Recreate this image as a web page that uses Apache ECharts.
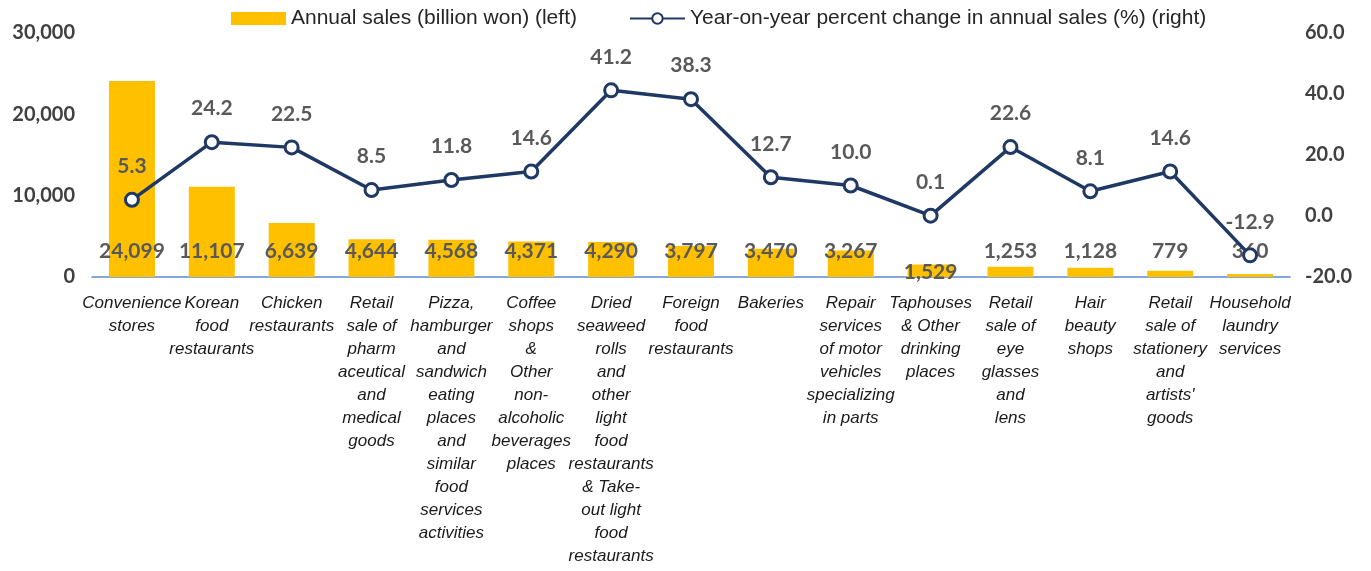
<!DOCTYPE html>
<html>
<head>
<meta charset="utf-8">
<script src="https://cdn.jsdelivr.net/npm/echarts@6/dist/echarts.min.js"></script>
<style>html,body{margin:0;padding:0;background:#fff;}#c{width:1371px;height:571px;}</style>
</head>
<body>
<div id="c"></div>
<script>
var categories = [
  "Convenience\nstores",
  "Korean\nfood\nrestaurants",
  "Chicken\nrestaurants",
  "Retail\nsale of\npharm\naceutical\nand\nmedical\ngoods",
  "Pizza,\nhamburger\nand\nsandwich\neating\nplaces\nand\nsimilar\nfood\nservices\nactivities",
  "Coffee\nshops\n&\nOther\nnon-\nalcoholic\nbeverages\nplaces",
  "Dried\nseaweed\nrolls\nand\nother\nlight\nfood\nrestaurants\n& Take-\nout light\nfood\nrestaurants",
  "Foreign\nfood\nrestaurants",
  "Bakeries",
  "Repair\nservices\nof motor\nvehicles\nspecializing\nin parts",
  "Taphouses\n& Other\ndrinking\nplaces",
  "Retail\nsale of\neye\nglasses\nand\nlens",
  "Hair\nbeauty\nshops",
  "Retail\nsale of\nstationery\nand\nartists'\ngoods",
  "Household\nlaundry\nservices"
];
var annualSales = [24099, 11107, 6639, 4644, 4568, 4371, 4290, 3797, 3470, 3267, 1529, 1253, 1128, 779, 360];
var yoyChange = [5.3, 24.2, 22.5, 8.5, 11.8, 14.6, 41.2, 38.3, 12.7, 10.0, 0.1, 22.6, 8.1, 14.6, -12.9];
var leftTicks = [0, 10000, 20000, 30000];
var rightTicks = [-20, 0, 20, 40, 60];
var seriesNames = ["Annual sales (billion won) (left)", "Year-on-year percent change in annual sales (%) (right)"];

var valueFont = { fontFamily: "Lato", fontWeight: "bold", fontSize: 21, color: "#595959" };

var barData = annualSales.map(function (v, i) {
  var item = { value: v };
  if (i === 10) {
    item.label = { offset: [0, 21] };
  }
  return item;
});

var chart = echarts.init(document.getElementById('c'));
chart.setOption({
  animation: false,
  backgroundColor: '#ffffff',
  legend: {
    top: 3,
    left: 226,
    itemWidth: 55,
    itemHeight: 13,
    itemGap: 52,
    textStyle: { fontFamily: "Liberation Sans", fontSize: 21, color: "#262626" },
    data: [
      { name: seriesNames[0], icon: 'rect' },
      { name: seriesNames[1] }
    ]
  },
  grid: { left: 92, right: 81, top: 33, bottom: 294 },
  xAxis: {
    type: 'category',
    data: categories,
    axisLine: { lineStyle: { color: '#5B8BD0', width: 1.5 } },
    axisTick: { show: false },
    axisLabel: {
      interval: 0,
      margin: 15,
      fontFamily: "Liberation Sans",
      fontStyle: 'italic',
      fontSize: 17,
      lineHeight: 23,
      color: '#1a1a1a'
    }
  },
  yAxis: [
    {
      type: 'value',
      min: leftTicks[0],
      max: leftTicks[leftTicks.length - 1],
      interval: leftTicks[1] - leftTicks[0],
      axisLine: { show: false },
      axisTick: { show: false },
      splitLine: { show: false },
      axisLabel: {
        margin: 17,
        fontFamily: "Lato",
        fontWeight: 'bold',
        fontSize: 20,
        color: '#404040',
        formatter: function (v) { return v.toLocaleString('en-US'); }
      }
    },
    {
      type: 'value',
      min: rightTicks[0],
      max: rightTicks[rightTicks.length - 1],
      interval: rightTicks[1] - rightTicks[0],
      axisLine: { show: false },
      axisTick: { show: false },
      splitLine: { show: false },
      axisLabel: {
        margin: 15,
        fontFamily: "Lato",
        fontWeight: 'bold',
        fontSize: 20,
        color: '#404040',
        formatter: function (v) { return v.toFixed(1); }
      }
    }
  ],
  series: [
    {
      name: seriesNames[0],
      type: 'bar',
      yAxisIndex: 0,
      barWidth: 46,
      data: barData,
      itemStyle: { color: '#FFC000' },
      label: {
        show: true,
        position: 'insideBottom',
        distance: 15,
        fontFamily: valueFont.fontFamily,
        fontWeight: valueFont.fontWeight,
        fontSize: valueFont.fontSize,
        color: valueFont.color,
        formatter: function (p) { return p.value.toLocaleString('en-US'); }
      }
    },
    {
      name: seriesNames[1],
      type: 'line',
      yAxisIndex: 1,
      data: yoyChange,
      symbol: 'circle',
      symbolSize: 13,
      z: 5,
      lineStyle: { color: '#1F3864', width: 3.5 },
      itemStyle: { color: '#ffffff', borderColor: '#1F3864', borderWidth: 3 },
      label: {
        show: true,
        position: 'top',
        distance: 15,
        fontFamily: valueFont.fontFamily,
        fontWeight: valueFont.fontWeight,
        fontSize: valueFont.fontSize,
        color: valueFont.color,
        formatter: function (p) { return p.value.toFixed(1); }
      }
    }
  ]
});
</script>
</body>
</html>
